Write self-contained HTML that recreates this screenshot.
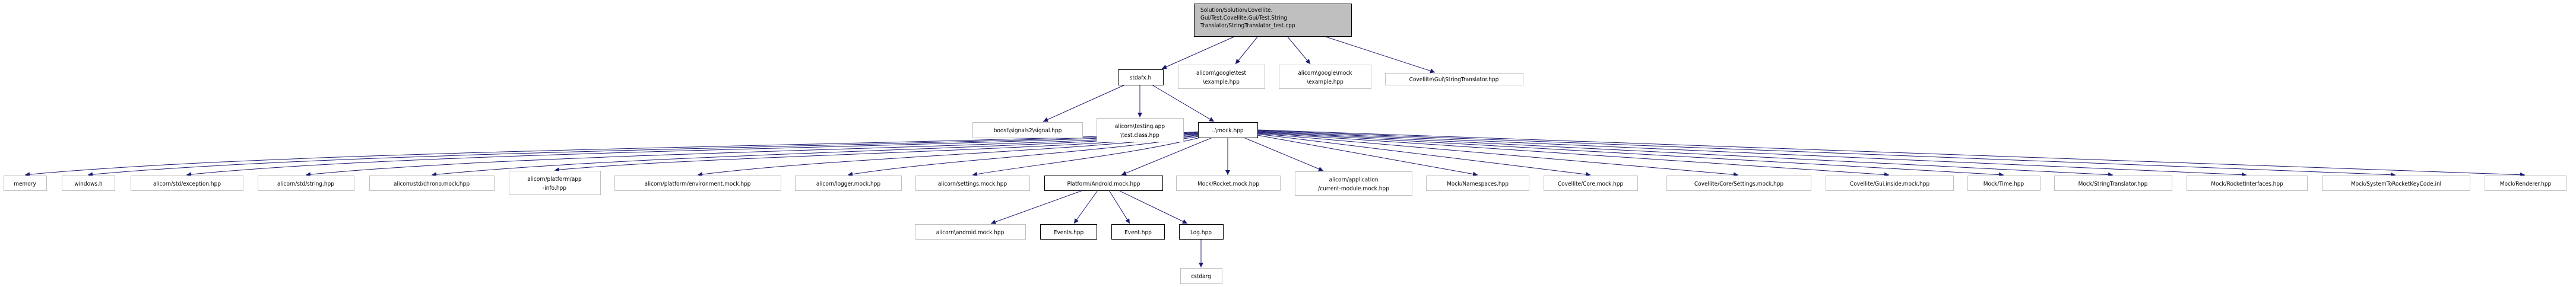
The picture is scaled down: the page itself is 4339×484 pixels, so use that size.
<!DOCTYPE html>
<html><head><meta charset="utf-8"><style>
html,body{margin:0;padding:0;background:#fff;}
svg{display:block;}
text{font-family:"DejaVu Sans Condensed","DejaVu Sans","Liberation Sans",sans-serif;font-size:10px;fill:#000;}
</style></head><body>
<svg width="4339" height="484" viewBox="0 0 4339 484" xmlns="http://www.w3.org/2000/svg">
<defs><marker id="a" viewBox="0 0 10 10" refX="10" refY="5" markerWidth="10" markerHeight="8" markerUnits="userSpaceOnUse" orient="auto"><path d="M0,0 L10,5 L0,10 z" fill="#191970"/></marker></defs>
<g fill="none" stroke="#191970" stroke-width="1" marker-end="url(#a)">
<!-- root edges -->
<path d="M2081,61 L1957,116"/>
<path d="M2119,61 L2081,108"/>
<path d="M2168,61 L2207,108"/>
<path d="M2230,61 L2417,122"/>
<!-- stdafx edges -->
<path d="M1895,143 L1757,205"/>
<path d="M1920,143 L1920,198"/>
<path d="M1940,143 L2045,205"/>
<!-- mock left curves -->
<path d="M2020,222 C1700,244 500,250 42,295"/>
<path d="M2020,223 C1700,246 600,252 148,295"/>
<path d="M2020,224 C1700,248 700,254 314,295"/>
<path d="M2020,225 C1750,250 900,256 515,295"/>
<path d="M2020,226 C1750,252 1100,258 727,295"/>
<path d="M2022,227 C1800,254 1200,262 934,287"/>
<path d="M2024,228 C1800,256 1400,266 1175,295"/>
<path d="M2026,229 C1850,258 1600,268 1428,295"/>
<path d="M2030,230 C1900,262 1750,276 1638,295"/>
<path d="M2042,232 L1889,295"/>
<path d="M2068,232 L2068,295"/>
<path d="M2095,232 L2229,288"/>
<!-- mock right lines -->
<path d="M2118,228 L2489,295"/>
<path d="M2118,226 L2679,295"/>
<path d="M2118,225 L2928,295"/>
<path d="M2118,224 L3182,295"/>
<path d="M2118,223 L3375,295"/>
<path d="M2118,222 L3559,295"/>
<path d="M2118,221 L3784,295"/>
<path d="M2118,220 L4035,295"/>
<path d="M2118,219 L4253,295"/>
<!-- android edges -->
<path d="M1824,321 L1669,377"/>
<path d="M1849,321 L1809,377"/>
<path d="M1868,321 L1903,377"/>
<path d="M1884,321 L2000,377"/>
<path d="M2023,403 L2023,451"/>
</g>
<g stroke-width="1">
<rect x="2011.5" y="6.5" width="265" height="55" fill="#bfbfbf" stroke="#000"/>
<text x="2022" y="20">Solution/Solution/Covellite.</text>
<text x="2022" y="33">Gui/Test.Covellite.Gui/Test.String</text>
<text x="2022" y="46">Translator/StringTranslator_test.cpp</text>
</g>
<g fill="#fff" stroke="#bfbfbf">
<rect x="1883.5" y="117.5" width="76" height="26" stroke="#000"/>
<rect x="1984.5" y="109.5" width="146" height="40"/>
<rect x="2154.5" y="109.5" width="155" height="40"/>
<rect x="2333.5" y="123.5" width="232" height="20"/>
<rect x="1638.5" y="206.5" width="185" height="26"/>
<rect x="1847.5" y="199.5" width="146" height="40"/>
<rect x="2018.5" y="206.5" width="100" height="26" stroke="#000"/>
<rect x="6.5" y="296.5" width="72" height="25"/>
<rect x="104.5" y="296.5" width="89" height="25"/>
<rect x="220.5" y="296.5" width="189" height="25"/>
<rect x="434.5" y="296.5" width="162" height="25"/>
<rect x="622.5" y="296.5" width="210" height="25"/>
<rect x="857.5" y="288.5" width="154" height="40"/>
<rect x="1035.5" y="296.5" width="280" height="25"/>
<rect x="1339.5" y="296.5" width="179" height="25"/>
<rect x="1542.5" y="296.5" width="192" height="25"/>
<rect x="1759.5" y="296.5" width="199" height="25" stroke="#000"/>
<rect x="1981.5" y="296.5" width="175" height="25"/>
<rect x="2181.5" y="289.5" width="197" height="40"/>
<rect x="2402.5" y="296.5" width="173" height="25"/>
<rect x="2600.5" y="296.5" width="158" height="25"/>
<rect x="2807.5" y="296.5" width="243" height="25"/>
<rect x="3075.5" y="296.5" width="215" height="25"/>
<rect x="3314.5" y="296.5" width="122" height="25"/>
<rect x="3460.5" y="296.5" width="198" height="25"/>
<rect x="3683.5" y="296.5" width="203" height="25"/>
<rect x="3911.5" y="296.5" width="249" height="25"/>
<rect x="4185.5" y="296.5" width="137" height="25"/>
<rect x="1541.5" y="378.5" width="186" height="25"/>
<rect x="1752.5" y="378.5" width="95" height="25" stroke="#000"/>
<rect x="1872.5" y="378.5" width="89" height="25" stroke="#000"/>
<rect x="1986.5" y="378.5" width="74" height="25" stroke="#000"/>
<rect x="1988.5" y="452.5" width="70" height="26"/>
</g>
<g text-anchor="middle">
<text x="1921" y="134">stdafx.h</text>
<text x="2057" y="126">alicorn\google\test</text>
<text x="2057" y="141">\example.hpp</text>
<text x="2232" y="126">alicorn\google\mock</text>
<text x="2232" y="141">\example.hpp</text>
<text x="2449" y="137">Covellite\Gui\StringTranslator.hpp</text>
<text x="1731" y="223">boost\signals2\signal.hpp</text>
<text x="1920" y="216">alicorn\testing.app</text>
<text x="1920" y="231">\test.class.hpp</text>
<text x="2068" y="223">..\mock.hpp</text>
<text x="42" y="313">memory</text>
<text x="149" y="313">windows.h</text>
<text x="315" y="313">alicorn/std/exception.hpp</text>
<text x="515" y="313">alicorn/std/string.hpp</text>
<text x="727" y="313">alicorn/std/chrono.mock.hpp</text>
<text x="934" y="305">alicorn/platform/app</text>
<text x="934" y="320">-info.hpp</text>
<text x="1175" y="313">alicorn/platform/environment.mock.hpp</text>
<text x="1429" y="313">alicorn/logger.mock.hpp</text>
<text x="1638" y="313">alicorn/settings.mock.hpp</text>
<text x="1859" y="313">Platform/Android.mock.hpp</text>
<text x="2069" y="313">Mock/Rocket.mock.hpp</text>
<text x="2280" y="306">alicorn/application</text>
<text x="2280" y="321">/current-module.mock.hpp</text>
<text x="2489" y="313">Mock/Namespaces.hpp</text>
<text x="2679" y="313">Covellite/Core.mock.hpp</text>
<text x="2929" y="313">Covellite/Core/Settings.mock.hpp</text>
<text x="3183" y="313">Covellite/Gui.inside.mock.hpp</text>
<text x="3375" y="313">Mock/Time.hpp</text>
<text x="3559" y="313">Mock/StringTranslator.hpp</text>
<text x="3785" y="313">Mock/RocketInterfaces.hpp</text>
<text x="4036" y="313">Mock/SystemToRocketKeyCode.inl</text>
<text x="4254" y="313">Mock/Renderer.hpp</text>
<text x="1634" y="395">alicorn\android.mock.hpp</text>
<text x="1800" y="395">Events.hpp</text>
<text x="1917" y="395">Event.hpp</text>
<text x="2023" y="395">Log.hpp</text>
<text x="2023" y="469">cstdarg</text>
</g>
</svg>
</body></html>
